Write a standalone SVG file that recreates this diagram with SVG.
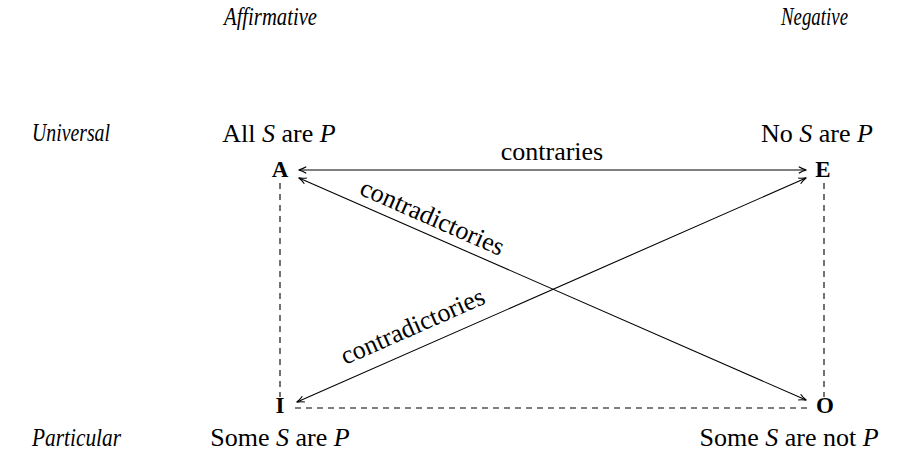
<svg xmlns="http://www.w3.org/2000/svg" width="921" height="456" viewBox="0 0 921 456">
<style>
text{font-family:"Liberation Serif","DejaVu Serif",serif;font-size:26px;fill:#000}
.it{font-style:italic}
.hd{font-style:italic;font-size:26px}
.b{font-weight:bold;font-size:23px}
.ln{stroke:#000;stroke-width:1.1;fill:none}
.d{stroke:#000;stroke-width:1.1;fill:none;stroke-dasharray:6,5}
</style>
<defs>
<marker id="ah" viewBox="0 0 10 10" refX="9" refY="5" markerWidth="9" markerHeight="9" orient="auto-start-reverse" markerUnits="userSpaceOnUse">
<path d="M1,1.5 Q5,4 9.5,5 Q5,6 1,8.5" fill="none" stroke="#000" stroke-width="1.3"/>
</marker>
</defs>
<rect width="921" height="456" fill="#fff"/>
<g id="headers">
<text class="hd" x="224" y="25" textLength="93" lengthAdjust="spacingAndGlyphs">Affirmative</text>
<text class="hd" x="781" y="25" textLength="67" lengthAdjust="spacingAndGlyphs">Negative</text>
<text class="hd" x="32" y="141" textLength="78" lengthAdjust="spacingAndGlyphs">Universal</text>
<text class="hd" x="32" y="446" textLength="89" lengthAdjust="spacingAndGlyphs">Particular</text>
</g>
<g id="nodeA">
<text x="279" y="142" text-anchor="middle">All <tspan class="it">S</tspan> are <tspan class="it">P</tspan></text>
<text class="b" x="280" y="177" text-anchor="middle">A</text>
</g>
<g id="nodeE">
<text x="817" y="142" text-anchor="middle">No <tspan class="it">S</tspan> are <tspan class="it">P</tspan></text>
<text class="b" x="823" y="177" text-anchor="middle">E</text>
</g>
<g id="nodeI">
<text x="280" y="446" text-anchor="middle">Some <tspan class="it">S</tspan> are <tspan class="it">P</tspan></text>
<text class="b" x="280" y="413" text-anchor="middle">I</text>
</g>
<g id="nodeO">
<text x="789" y="446" text-anchor="middle">Some <tspan class="it">S</tspan> are not <tspan class="it">P</tspan></text>
<text class="b" x="825" y="413" text-anchor="middle">O</text>
</g>
<g id="connectors">
<line class="ln" x1="299" y1="170" x2="806" y2="170" marker-start="url(#ah)" marker-end="url(#ah)"/>
<line class="ln" x1="299" y1="178" x2="806" y2="400" marker-start="url(#ah)" marker-end="url(#ah)"/>
<line class="ln" x1="297" y1="402" x2="806" y2="178" marker-start="url(#ah)" marker-end="url(#ah)"/>
<line class="d" x1="280" y1="183" x2="280" y2="397"/>
<line class="d" x1="824" y1="183" x2="824" y2="397"/>
<line class="d" x1="295" y1="408" x2="808" y2="408"/>
<text x="552" y="160" text-anchor="middle">contraries</text>
<text x="0" y="0" text-anchor="middle" transform="translate(429,225) rotate(23.7)">contradictories</text>
<text x="0" y="0" text-anchor="middle" transform="translate(416,334) rotate(-23.75)">contradictories</text>
</g>
</svg>
